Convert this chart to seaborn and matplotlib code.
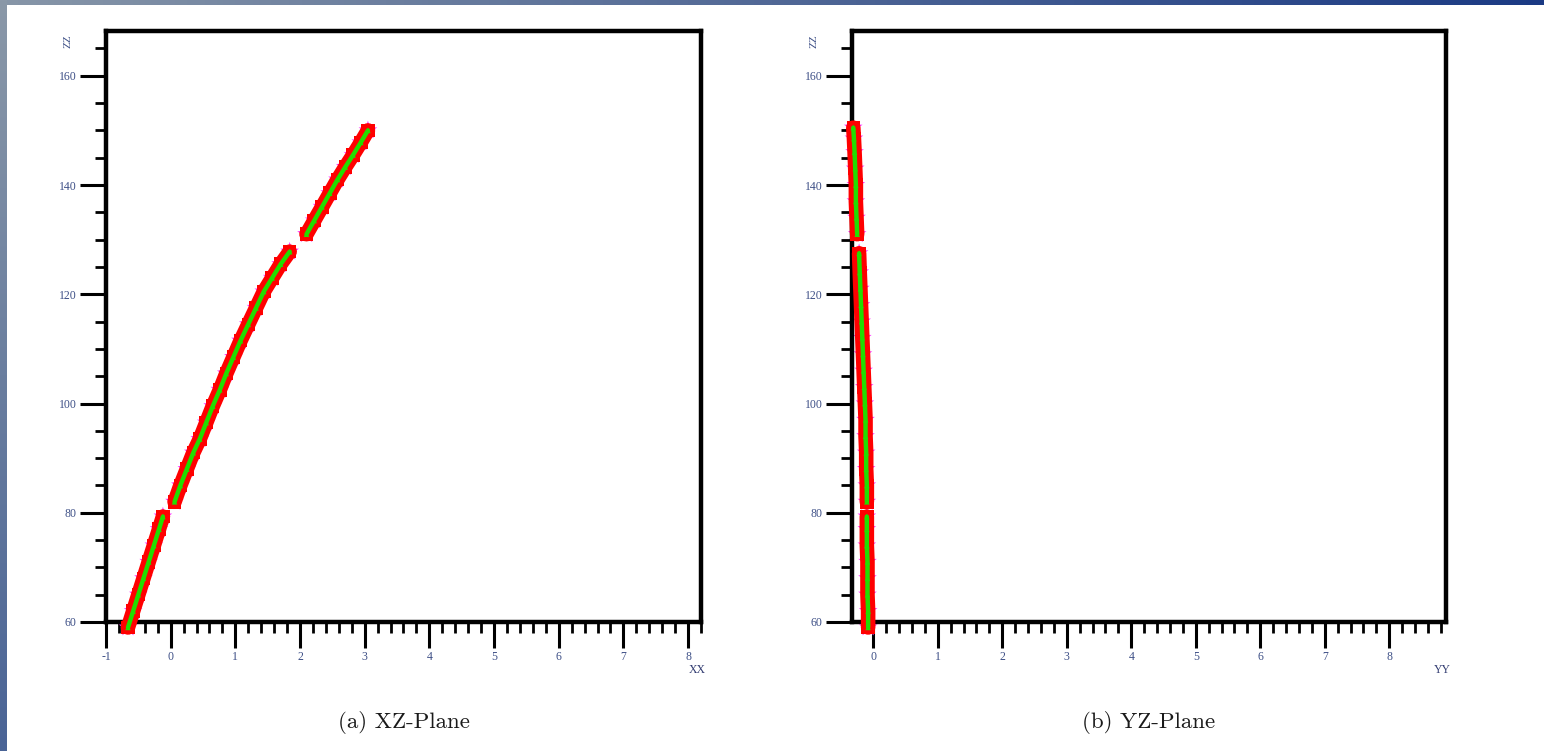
import numpy as np
import pandas as pd
import matplotlib
matplotlib.use("Agg")
import matplotlib.pyplot as plt
from matplotlib.ticker import MultipleLocator, FixedLocator
import seaborn as sns

# ---------------- data ----------------
# XZ-plane trajectory, three segments
xz_seg = [1]*8 + [2]*17 + [3]*9
xz_x = [-0.66, -0.58, -0.50, -0.42, -0.34, -0.26, -0.18, -0.12,
        0.06, 0.15, 0.25, 0.35, 0.45, 0.55, 0.65, 0.76, 0.86, 0.97, 1.08, 1.20, 1.32, 1.44, 1.57, 1.70, 1.84,
        2.10, 2.22, 2.34, 2.46, 2.58, 2.70, 2.82, 2.94, 3.05]
xz_z = [59.0, 62.0, 65.0, 68.0, 71.0, 74.0, 77.0, 79.3,
        82.0, 85.0, 88.0, 91.0, 93.5, 96.5, 99.5, 102.5, 105.5, 108.5, 111.5, 114.5, 117.5, 120.5, 123.0, 125.5, 127.8,
        131.0, 133.5, 136.0, 138.5, 141.0, 143.3, 145.5, 147.8, 150.0]

# YZ-plane trajectory, three segments
yz_seg = [1]*8 + [2]*16 + [3]*8
yz_y = [-0.08, -0.08, -0.09, -0.09, -0.09, -0.10, -0.10, -0.10,
        -0.10, -0.10, -0.11, -0.11, -0.12, -0.12, -0.13, -0.14, -0.15, -0.16, -0.17, -0.18, -0.19, -0.20, -0.21, -0.22,
        -0.25, -0.26, -0.27, -0.27, -0.28, -0.29, -0.30, -0.31]
yz_z = [59.0, 62.0, 65.0, 68.0, 71.0, 74.0, 77.0, 79.3,
        82.0, 85.0, 88.0, 91.0, 94.0, 97.0, 100.0, 103.0, 106.0, 109.0, 112.0, 115.0, 118.0, 121.0, 124.0, 127.5,
        131.0, 134.0, 137.0, 140.0, 143.0, 146.0, 148.5, 150.5]

y_major = [60, 80, 100, 120, 140, 160]
y_labels = ["60", "80", "100", "120", "140", "160"]
captions = ["(a) XZ-Plane", "(b) YZ-Plane"]
axis_names = ["XX", "YY"]

df_xz = pd.DataFrame({"seg": xz_seg, "h": xz_x, "z": xz_z})
df_yz = pd.DataFrame({"seg": yz_seg, "h": yz_y, "z": yz_z})

# ---------------- figure ----------------
sns.set_theme(style="white")
plt.rcParams["axes.unicode_minus"] = False
W, H = 1544, 751
fig = plt.figure(figsize=(W / 100, H / 100), dpi=100)

# decorative slide frame: gradient strips on top and left
bg = fig.add_axes([0, 0, 1, 1], zorder=-10)
bg.set_axis_off()
top = np.linspace(0, 1, 256)[None, :]
bg.imshow(top, extent=[0, W, H - 5, H], aspect="auto",
          cmap=matplotlib.colors.LinearSegmentedColormap.from_list("t", ["#8796a8", "#1b3a84"]))
left = np.linspace(0, 1, 256)[:, None]
bg.imshow(left, extent=[0, 7, 0, H], aspect="auto", origin="upper",
          cmap=matplotlib.colors.LinearSegmentedColormap.from_list("l", ["#8a98a8", "#4a6496"]))
bg.set_xlim(0, W)
bg.set_ylim(0, H)

tick_color = "#3d4f86"
tick_font = "Liberation Serif"


def px(x0, y0, x1, y1):
    return [x0 / W, 1 - y1 / H, (x1 - x0) / W, (y1 - y0) / H]


panels = [
    (df_xz, px(106, 31, 701, 622), (-1.0, 8.2), np.arange(-1, 8.21, 0.2), list(range(-1, 9))),
    (df_yz, px(852, 31, 1446, 622), (-0.33, 8.88), np.arange(0, 8.81, 0.2), list(range(0, 9))),
]

axes = []
for df, rect, xlim, minor_x, major_x in panels:
    ax = fig.add_axes(rect)
    axes.append(ax)
    # magenta fringe
    sns.scatterplot(data=df, x="h", y="z", ax=ax, marker="*", s=200, color="#ff33ff",
                    edgecolor="none", clip_on=False, legend=False, zorder=2)
    # red band
    sns.lineplot(data=df, x="h", y="z", units="seg", estimator=None, sort=False, ax=ax,
                 color="#ff0000", lw=10.5, legend=False, zorder=3)
    sns.scatterplot(data=df, x="h", y="z", ax=ax, marker="s", s=95, color="#ff0000",
                    edgecolor="none", clip_on=False, legend=False, zorder=3)
    # green core
    sns.lineplot(data=df, x="h", y="z", units="seg", estimator=None, sort=False, ax=ax,
                 color="#22dd00", lw=3.2, legend=False, zorder=4)
    sns.scatterplot(data=df, x="h", y="z", ax=ax, marker="^", s=16, color="#22dd00",
                    edgecolor="none", clip_on=False, legend=False, zorder=4)
    for ln in ax.lines:
        ln.set_clip_on(False)

    ax.set_xlim(*xlim)
    ax.set_ylim(60, 168.2)
    ax.set_xlabel("")
    ax.set_ylabel("")
    ax.set_facecolor("white")
    for s in ax.spines.values():
        s.set_color("black")
        s.set_linewidth(3.2)
        s.set_visible(True)
    ax.xaxis.set_major_locator(FixedLocator(major_x))
    ax.xaxis.set_minor_locator(FixedLocator(minor_x))
    ax.yaxis.set_major_locator(FixedLocator(y_major))
    ax.yaxis.set_minor_locator(MultipleLocator(5))
    ax.set_yticklabels(y_labels)
    ax.tick_params(axis="both", which="major", direction="out", length=19, width=2.2,
                   color="black", labelsize=8.5, labelcolor=tick_color, pad=2,
                   bottom=True, left=True, top=False, right=False)
    ax.tick_params(axis="both", which="minor", direction="out", length=8, width=2.0,
                   color="black", bottom=True, left=True, top=False, right=False)
    for lab in ax.get_xticklabels() + ax.get_yticklabels():
        lab.set_fontfamily(tick_font)

for ax, cap, name in zip(axes, captions, axis_names):
    pos = ax.get_position()
    # stacked axis name at the top of the vertical axis
    fig.text(pos.x0 - 38 / W, pos.y1 - 10 / H, "ZZ", rotation=90, ha="center", va="center",
             fontsize=8, color=tick_color, family=tick_font)
    # horizontal axis name below the right end
    fig.text(pos.x1 - 4 / W, 1 - 670 / H, name, ha="center", va="center",
             fontsize=8.5, color="#303a70", family=tick_font)
    # caption
    fig.text(pos.x0 + pos.width * 0.5, 1 - 722 / H, cap, ha="center", va="center",
             fontsize=16.5, color="#1a1a1a", family="cmr10")

fig.savefig("out.png", dpi=100, facecolor="white")
